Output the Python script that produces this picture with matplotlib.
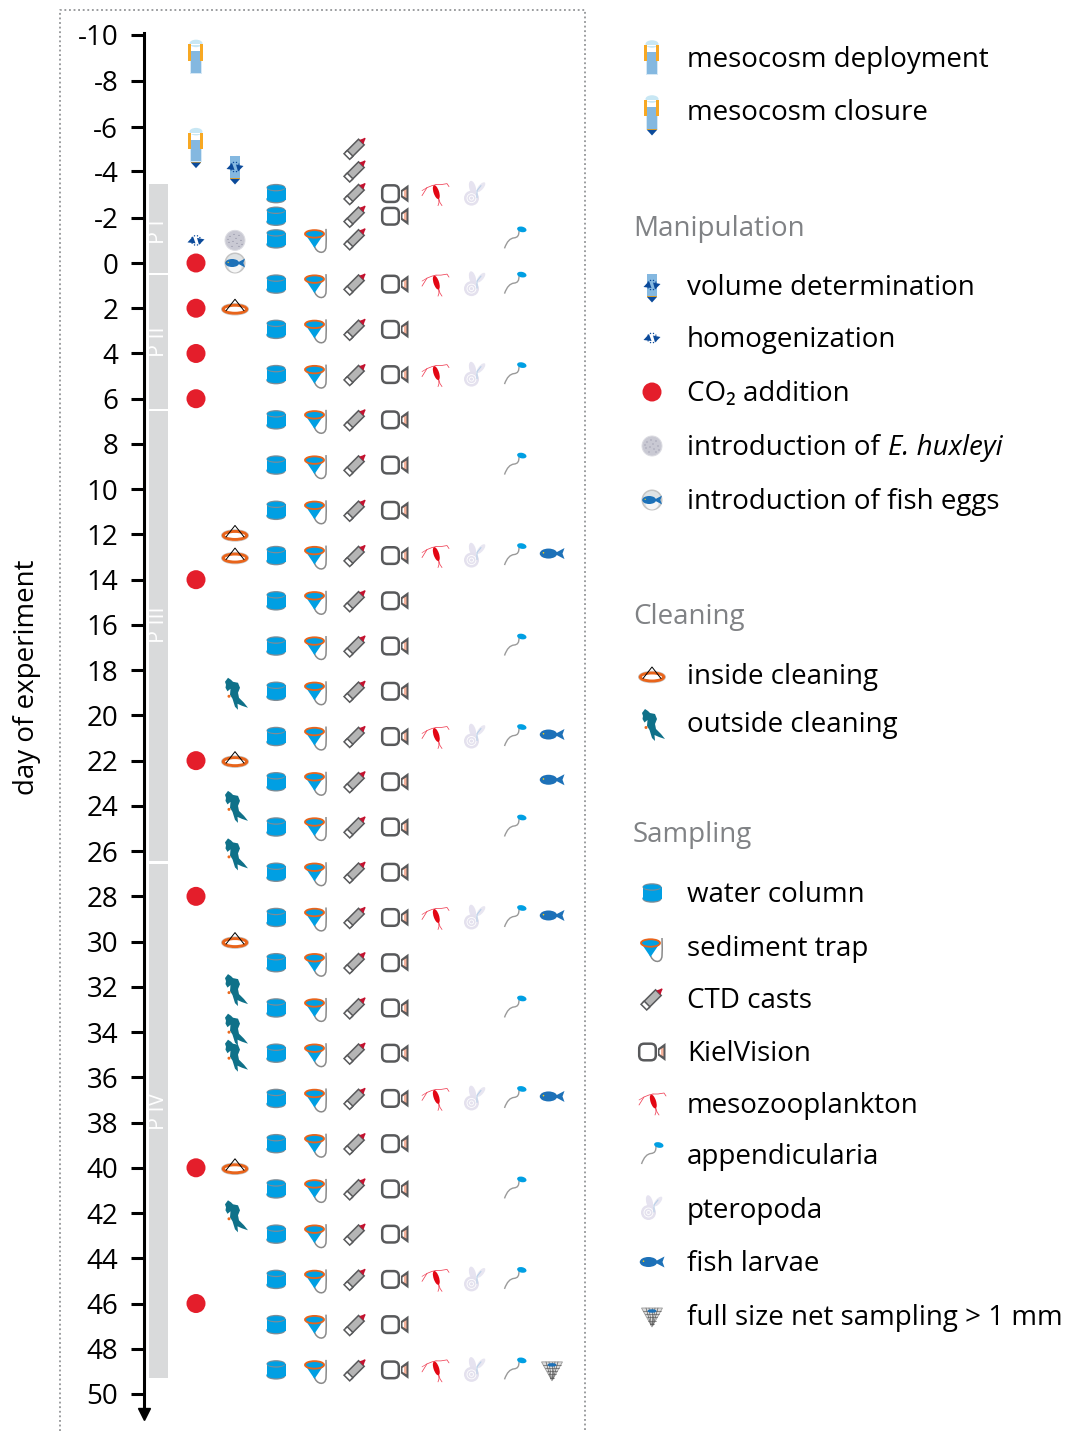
import numpy as np
import matplotlib
matplotlib.use("Agg")
import matplotlib.pyplot as plt
from matplotlib.patches import Ellipse, Polygon, Circle, FancyBboxPatch, PathPatch
from matplotlib.path import Path
from matplotlib.lines import Line2D
from matplotlib.transforms import Affine2D

plt.rcParams['font.family'] = ['Open Sans', 'DejaVu Sans']

# ---- data (days of experiment)
tick_labels = list(range(-10, 52, 2))
# the original axis is not quite regular at the top
tick_days = [-10.1, -8.05, -6, -4.05, -2] + list(range(0, 52, 2))

phase_names = ["P I", "P II", "P III", "P IV"]
phase_start = [-3.5, 0.55, 6.55, 26.55]
phase_end = [0.45, 6.45, 26.45, 49.3]
phase_label_day = [-1.4, 3.5, 16, 37.5]

deployment_days = [-9]
closure_days = [-5.1]
volume_days = [-4.2]
homogenization_days = [-1]
co2_days = [0, 2, 4, 6, 14, 22, 28, 40, 46]
ehux_days = [-1]
egg_days = [0]
inside_days = [2, 12, 13, 22, 30, 40]
outside_days = [19, 24, 26.1, 32.1, 33.85, 35, 42.1]
water_days = [-3, -2, -1, 1, 3, 5, 7, 9, 11, 13, 15, 17, 19, 21, 23, 25, 27, 29, 31, 33, 35, 37, 39, 41, 43, 45, 47, 49]
trap_days = [-1, 1, 3, 5, 7, 9, 11, 13, 15, 17, 19, 21, 23, 25, 27, 29, 31, 33, 35, 37, 39, 41, 43, 45, 47, 49]
ctd_days = [-5, -4, -3, -2, -1, 1, 3, 5, 7, 9, 11, 13, 15, 17, 19, 21, 23, 25, 27, 29, 31, 33, 35, 37, 39, 41, 43, 45, 47, 49]
kiel_days = [-3, -2, 1, 3, 5, 7, 9, 11, 13, 15, 17, 19, 21, 23, 25, 27, 29, 31, 33, 35, 37, 39, 41, 43, 45, 47, 49]
meso_days = [-3, 1, 5, 13, 21, 29, 37, 45, 49]
ptero_days = [-3, 1, 5, 13, 21, 29, 37, 45, 49]
app_days = [-1, 1, 5, 9, 13, 17, 21, 25, 29, 33, 37, 41, 45, 49]
fish_days = [13, 21, 23, 29, 37]
net_days = [49]

legend_top = ["mesocosm deployment", "mesocosm closure"]
legend_manip = ["volume determination", "homogenization", "CO\u2082 addition",
                "introduction of ", "introduction of fish eggs"]
legend_clean = ["inside cleaning", "outside cleaning"]
legend_samp = ["water column", "sediment trap", "CTD casts", "KielVision", "mesozooplankton",
               "appendicularia", "pteropoda", "fish larvae", "full size net sampling > 1 mm"]

BLUE = "#009fe3"
DARK = "#0b4a9a"
GRAY = "#58595b"
ORANGE = "#e8641b"
TUBE = "#84b8e0"
FONT = 20


# ---- icons, drawn in pixels around an anchor point (y pointing down)
def put(ax, tr, art):
    art.set_transform(tr)
    art.set_clip_on(False)
    ax.add_artist(art)


def poly(ax, tr, pts, fc, ec="none", lw=0, z=5):
    put(ax, tr, Polygon(pts, closed=True, fc=fc, ec=ec, lw=lw, zorder=z))


def ell(ax, tr, x, y, w, h, fc, ec="none", lw=0, ang=0, z=5):
    put(ax, tr, Ellipse((x, y), w, h, angle=ang, fc=fc, ec=ec, lw=lw, zorder=z))


def line(ax, tr, xs, ys, c, lw=0.8, z=5):
    put(ax, tr, Line2D(xs, ys, color=c, lw=lw, zorder=z, solid_capstyle="round"))


def curve(ax, tr, verts, c, lw=0.9, z=5):
    codes = [Path.MOVETO] + [Path.CURVE4] * (len(verts) - 1)
    put(ax, tr, PathPatch(Path(verts, codes), fc="none", ec=c, lw=lw, zorder=z))


def rot(pts, deg, cx=0, cy=0):
    a = np.radians(deg)
    p = np.array(pts, dtype=float)
    x = p[:, 0] * np.cos(a) - p[:, 1] * np.sin(a) + cx
    y = p[:, 0] * np.sin(a) + p[:, 1] * np.cos(a) + cy
    return np.column_stack([x, y])


def tube(ax, tr):
    poly(ax, tr, [(-6, -15), (6, -15), (6, 14.5), (-6, 14.5)], "#d6e8f5")
    poly(ax, tr, [(-5, -15), (5, -15), (5, -8), (-5, -8)], "white")
    poly(ax, tr, [(-5, -8), (5, -8), (5, 13.5), (-5, 13.5)], TUBE)
    ell(ax, tr, 0, -16, 13, 7.5, "#c8e7f4")
    poly(ax, tr, [(-5, -15), (5, -15), (5, -14), (-5, -14)], "white", z=6)
    for x0 in (-7.7, 4.4):
        poly(ax, tr, [(x0, -15), (x0 + 2.8, -15), (x0 + 2.8, 1.3), (x0, 1.3)], "#f7a823", z=7)


def deployment(ax, tr):
    tube(ax, tr)


def closure(ax, tr):
    tube(ax, tr)
    poly(ax, tr, [(-5, 14), (5, 14), (5, 15), (-5, 15)], "#d39b30", z=6)
    poly(ax, tr, [(-5, 15), (5, 15), (0, 20.5)], DARK, z=6)


def homog(ax, tr, cx=0.0, cy=0.0):
    ang = np.radians(np.arange(0, 360, 36))
    for a in ang:
        ell(ax, tr, cx + 4.8 * np.cos(a), cy + 4.8 * np.sin(a), 1.4, 1.4, DARK, z=8)
    poly(ax, tr, [(cx - 8.5, cy + 2), (cx - 3, cy - 4), (cx - 0.5, cy + 3)], DARK, z=8)
    poly(ax, tr, [(cx + 8.5, cy - 1), (cx + 3, cy + 4.5), (cx + 1, cy - 2.5)], DARK, z=8)


def volume(ax, tr):
    poly(ax, tr, [(-5, -12), (5, -12), (5, 10), (-5, 10)], TUBE)
    poly(ax, tr, [(-5, 10), (5, 10), (5, 11), (-5, 11)], "#d39b30", z=6)
    poly(ax, tr, [(-5, 11), (5, 11), (0, 16.5)], DARK, z=6)
    homog(ax, tr, 0, -1)


def co2(ax, tr):
    put(ax, tr, Circle((0, 0), 9.5, fc="#e41e2b", ec="none", zorder=5))


def ehux(ax, tr):
    put(ax, tr, Circle((0, 0), 10, fc="#c9c9d3", ec="#dcdce2", lw=0.7, zorder=5))
    for sx, sy in [(-5, -4), (-1, -6), (4, -5), (6, 0), (-6, 2), (-2, 1), (2, 3), (-3, 6), (4, 6), (1, -2), (-7, -1), (7, 4)]:
        ell(ax, tr, sx, sy, 1.2, 1.0, "#85859a", z=6)


def fishbody(ax, tr, sc=1.0, z=6):
    ell(ax, tr, -3.5 * sc, 0, 17.5 * sc, 10 * sc, "#1d71b8", z=z)
    poly(ax, tr, [(2 * sc, 0), (12.5 * sc, -5.5 * sc), (10.5 * sc, 0), (12.5 * sc, 5.5 * sc)], "#1d71b8", z=z)
    ell(ax, tr, -8.5 * sc, -0.8 * sc, 1.6 * sc, 1.6 * sc, "#f7d117", z=z + 1)


def larva(ax, tr):
    fishbody(ax, tr.frozen().translate(0, 2))


def egg(ax, tr):
    put(ax, tr, Circle((0, 0), 10.5, fc="#c4c4c4", ec="none", zorder=5))
    put(ax, tr, Circle((0, 0), 9, fc="#dfe3e5", ec="none", zorder=5))
    put(ax, tr, Circle((0, 3), 6.5, fc="#f7f7f7", ec="none", zorder=5))
    fishbody(ax, tr, 0.8)


def inside(ax, tr):
    ell(ax, tr, 0, 1, 27, 11.5, "none", ec="#c9c9c9", lw=0.7, z=5)
    ell(ax, tr, 0, 1, 23.5, 8, "white", ec=ORANGE, lw=2.1, z=6)
    line(ax, tr, [-9, 0, 9], [2.5, -9, 2.5], "black", 0.7, z=7)


def diver(ax, tr):
    pts = [(-10, -11), (-7, -15), (-4, -13), (-2, -11), (3, -10), (5, -5), (3, 0), (4, 5), (9, 10), (13, 15),
           (7, 13), (2.5, 11), (3, 17), (0, 14), (-2.5, 6), (-5, 2), (-4.5, -4), (-7.5, -1.5), (-9.5, -5), (-9, -8)]
    poly(ax, tr, pts, "#0f7189")
    ell(ax, tr, -6, 3.5, 3, 3, "#ea6a20", z=6)


def water(ax, tr):
    ell(ax, tr, 0, 6, 19, 7.5, "#7f8c95")
    poly(ax, tr, [(-9.5, -6), (9.5, -6), (9.5, 6), (-9.5, 6)], BLUE, z=6)
    ell(ax, tr, 0, 5.2, 19, 6.5, BLUE, z=6)
    ell(ax, tr, 0, -6, 19, 7.5, "#7f8c95", z=7)
    ell(ax, tr, 0, -6, 18, 5, BLUE, z=8)


def trap(ax, tr):
    curve(ax, tr, [(10, -10), (10, -2), (10.5, 3), (10, 8), (9.5, 16), (0, 15), (-2, 6)], "#8a8a8a", 1.1)
    poly(ax, tr, [(-11, -5), (8, -5), (-1.5, 9)], BLUE, z=6)
    ell(ax, tr, -1.5, -5, 19, 7.5, BLUE, ec=ORANGE, lw=1.3, z=7)


def ctd(ax, tr):
    body = rot([(-9, -4), (9, -4), (9, 4), (-9, 4)], -45, 0, 0)
    poly(ax, tr, body, "#b5b5b5", ec=GRAY, lw=1.1, z=6)
    band = rot([(-11.5, -4), (-7, -4), (-7, 4), (-11.5, 4)], -45, 0, 0)
    poly(ax, tr, band, "white", ec=GRAY, lw=1.1, z=6)
    tip = rot([(9, -3), (12, -1.5), (14.5, -0.6), (14.5, 0.6), (12, 1.5), (9, 3)], -45, 0, 0)
    poly(ax, tr, tip, "#c4122f", z=7)


def kiel(ax, tr):
    put(ax, tr, FancyBboxPatch((-11, -6.5), 13, 13, boxstyle="round,pad=1.8,rounding_size=5",
                               fc="white", ec=GRAY, lw=1.8, zorder=6))
    poly(ax, tr, [(6, -3.5), (13.5, -9), (13.5, 9), (6, 3.5)], GRAY, z=6)
    poly(ax, tr, [(8, -2.5), (11.5, -4.5), (11.5, 4.5), (8, 2.5)], "#f6b39c", z=7)
    poly(ax, tr, [(7.5, -2), (9, -2.5), (9, 2.5), (7.5, 2)], "white", z=8)


def meso(ax, tr):
    r = "#ef4055"
    ell(ax, tr, 1.3, -1.5, 5.5, 14.5, "#e30613", ang=-18, z=6)
    line(ax, tr, [1, -3, -8, -13], [-9, -8, -6, 2], r, 0.55)
    line(ax, tr, [-8, -13], [-6, -3], r, 0.45)
    line(ax, tr, [1, 6, 12, 14], [-9, -9, -10, -7], r, 0.55)
    line(ax, tr, [3.5, 5, 7], [4, 9, 12], r, 0.55)
    line(ax, tr, [3.5, 4, 3], [4, 9, 12], r, 0.55)


def ptero(ax, tr):
    ell(ax, tr, -2.5, -6, 6.5, 14, "#e6e3f0", ang=-15)
    ell(ax, tr, 6, -6.5, 5, 12, "#e8e6f1", ang=40)
    put(ax, tr, Circle((-3.5, 4.5), 7.5, fc="#e4e1ee", ec="none", zorder=6))
    put(ax, tr, Circle((-3.5, 4.5), 4.5, fc="none", ec="white", lw=0.6, zorder=7))
    put(ax, tr, Circle((-3.5, 4.5), 2.0, fc="none", ec="white", lw=0.6, zorder=7))
    line(ax, tr, [2, 2, 6], [4, -3, -8], "#b9d0e8", 0.8, z=8)


def appendic(ax, tr):
    curve(ax, tr, [(-10.5, 9), (-8, 2), (-5, -1), (-1, -1.5), (3, -2), (4, -4), (4, -9)], "#9a9a9a", 1.0)
    ell(ax, tr, 6.8, -10, 9.5, 5.5, BLUE, ang=12, z=6)


def net(ax, tr):
    tri = [(-10.5, -8), (10.5, -8), (0, 11)]
    poly(ax, tr, tri, "#dcdcdc", ec="#9a9a9a", lw=0.6, z=5)
    for y in np.arange(-5, 8, 3.2):
        half = 10.5 * (11 - y) / 19
        line(ax, tr, [-half, half], [y, y], "#555555", 0.45, z=6)
    for x in np.arange(-6, 7, 3):
        line(ax, tr, [x, x * 0.2], [-8, 9], "#555555", 0.45, z=6)
    ell(ax, tr, 0, -5, 9, 3.5, "#1d71b8", z=7)


def stamp(ax, func, x, y, shift=0.0):
    # anchor goes through the axes' own scales
    px, py = ax.transData.transform((x, y))
    func(ax, Affine2D().scale(1, -1).translate(px, py + shift))


fig = plt.figure(figsize=(10.69, 14.31), dpi=100)

# pixels per day is 22.62, day 0 sits at pixel row 263
ax = fig.add_axes([144 / 1069, 0, (586 - 144) / 1069, 1])
ax.set_xlim(144, 586)
ax.set_ylim((1431 - 263) / 22.62, -263 / 22.62)
ax.patch.set_alpha(0)
for s in ["top", "right", "bottom"]:
    ax.spines[s].set_visible(False)
ax.spines["left"].set_linewidth(2.2)
ax.spines["left"].set_bounds(-10.15, 50.6)
ax.set_xticks([])
ax.set_yticks(tick_days)
ax.set_yticklabels([str(t) for t in tick_labels], fontsize=FONT)
ax.tick_params(axis="y", length=9.5, width=2.2, pad=9, color="black")
ax.plot([144], [50.9], marker="v", ms=8.5, color="black", clip_on=False, zorder=6)

# phase bars
for name, a, b, lab in zip(phase_names, phase_start, phase_end, phase_label_day):
    ax.bar(158.5, b - a, bottom=a, width=19.5, color="#d9dadb", zorder=1)
    ax.text(158.5, lab, name, rotation=90, color="white", fontsize=15.5, ha="center", va="center", zorder=2)

# x column, days, icon, small upward shift of the sampling rows in the original
columns = [
    (196, deployment_days, deployment, 0),
    (196, closure_days, closure, 0),
    (235, volume_days, volume, 0),
    (196, homogenization_days, homog, 0),
    (196, co2_days, co2, 0),
    (235, ehux_days, ehux, 0),
    (235, egg_days, egg, 0),
    (235, inside_days, inside, 0),
    (235, outside_days, diver, 0),
    (276, water_days, water, 1.5),
    (316, trap_days, trap, 1.5),
    (355, ctd_days, ctd, 1.5),
    (395, kiel_days, kiel, 1.5),
    (435, meso_days, meso, 1.5),
    (475, ptero_days, ptero, 1.5),
    (515, app_days, appendic, 1),
    (552, fish_days, larva, 1.5),
    (552, net_days, net, 1.5),
]
for x, days, func, shift in columns:
    for d in days:
        stamp(ax, func, x, d, shift)

# overlay in pixel rows for the key and the frame
leg = fig.add_axes([0, 0, 1, 1])
leg.set_xlim(0, 1069)
leg.set_ylim(1431, 0)
leg.axis("off")
leg.plot([60, 60, 585, 585], [1431, 10, 10, 1431], color="#808285", lw=1.1, ls=(0, (1.2, 1.8)))
leg.text(27, 677, "day of experiment", rotation=90, fontsize=FONT, ha="center", va="center")

key_rows = [
    (legend_top, [deployment, closure], [60, 115], [60, 113]),
    (legend_manip, [volume, homog, co2, ehux, egg], [286, 338, 392, 446, 500], [288, 340, 394, 448, 502]),
    (legend_clean, [inside, diver], [676, 724], [677, 725]),
    (legend_samp, [water, trap, ctd, kiel, meso, appendic, ptero, fishbody, net],
     [893, 948, 999, 1052, 1103, 1155, 1208, 1262, 1316],
     [895, 949, 1001, 1054, 1106, 1157, 1211, 1264, 1318]),
]
hux = None
for names, funcs, icon_y, text_y in key_rows:
    for n, f, iy, ty in zip(names, funcs, icon_y, text_y):
        stamp(leg, f, 652, iy)
        t = leg.text(687, ty, n, fontsize=FONT, ha="left", va="center")
        if n == "introduction of ":
            hux = t

fig.canvas.draw()
bb = hux.get_window_extent(fig.canvas.get_renderer())
leg.text(bb.x1 + 1, 448, "E. huxleyi", fontsize=FONT, style="italic", ha="left", va="center")

for name, y in zip(["Manipulation", "Cleaning", "Sampling"], [229, 617, 835]):
    leg.text(633, y, name, fontsize=FONT, color="#808285", ha="left", va="center")

fig.savefig("out.png", dpi=100)
